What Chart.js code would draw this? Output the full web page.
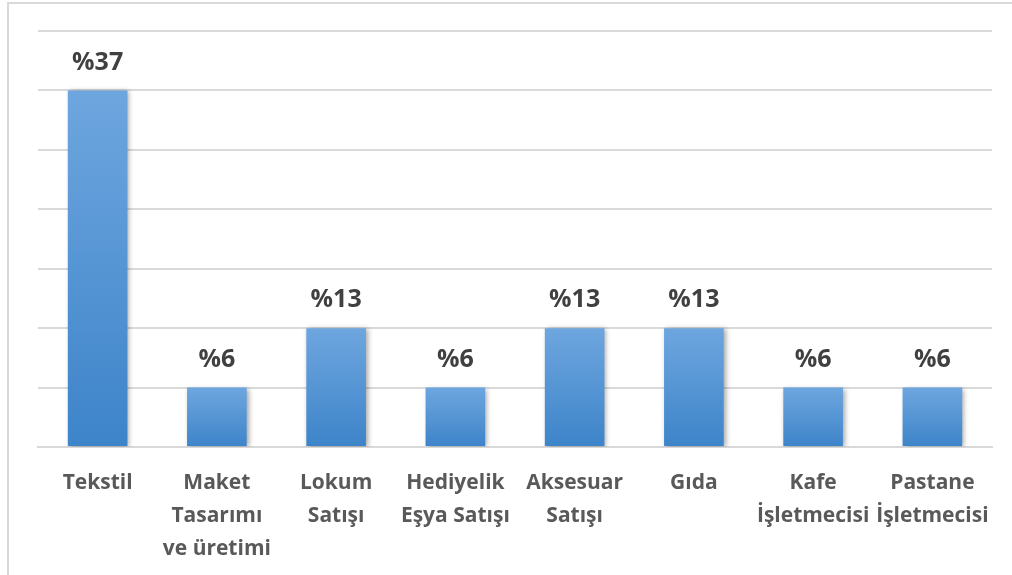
<!DOCTYPE html>
<html lang="tr">
<head>
    <meta charset="UTF-8">
    <title>Sektörler</title>
    <script src="https://cdn.jsdelivr.net/npm/chart.js"></script>
    <style>
        body {
            margin: 0;
            background: #fff;
            overflow: hidden;
        }
        #kutu {
            position: absolute;
            left: 0;
            top: 0;
            width: 1012px;
            height: 575px;
        }
        #cerceve {
            position: absolute;
            left: 7px;
            top: 2px;
            width: 1100px;
            height: 700px;
            border: 2px solid #d9d9d9;
        }
    </style>
</head>
<body>
    <div id="cerceve"></div>
    <div id="kutu"><canvas id="grafik" width="1012" height="575"></canvas></div>

    <script>
        // kategoriler (çok satırlı etiketler)
        const sektorler = [
            ["Tekstil"],
            ["Maket", "Tasarımı", "ve üretimi"],
            ["Lokum", "Satışı"],
            ["Hediyelik", "Eşya Satışı"],
            ["Aksesuar", "Satışı"],
            ["Gıda"],
            ["Kafe", "İşletmecisi"],
            ["Pastane", "İşletmecisi"]
        ];
        // yüzdeler (16 katılımcı üzerinden)
        const oranlar = [37.5, 6.25, 12.5, 6.25, 12.5, 12.5, 6.25, 6.25];
        const etiketler = ["%37", "%6", "%13", "%6", "%13", "%13", "%6", "%6"];

        const yaziTipi = "'Open Sans', Lato, sans-serif";

        function barRengi(context) {
            const chart = context.chart;
            const y = chart.scales.y;
            if (!chart.chartArea || !y || context.raw === undefined) return "#5b9bd5";
            const ust = y.getPixelForValue(context.raw);
            const alt = y.getPixelForValue(0);
            if (!isFinite(ust) || !isFinite(alt)) return "#5b9bd5";
            const g = chart.ctx.createLinearGradient(0, ust, 0, alt);
            g.addColorStop(0, "#6ea6df");
            g.addColorStop(1, "#3d84c9");
            return g;
        }

        const golge = {
            id: "golge",
            beforeDatasetsDraw(chart) {
                const ctx = chart.ctx;
                ctx.save();
                ctx.shadowColor = "rgba(0,0,0,0.35)";
                ctx.shadowBlur = 5;
                ctx.shadowOffsetX = 2;
                ctx.shadowOffsetY = 1;
            },
            afterDatasetsDraw(chart) {
                chart.ctx.restore();
            }
        };

        const degerYazisi = {
            id: "degerYazisi",
            afterDatasetsDraw(chart) {
                const ctx = chart.ctx;
                const meta = chart.getDatasetMeta(0);
                ctx.save();
                ctx.font = "bold 25px " + yaziTipi;
                ctx.fillStyle = "#404040";
                ctx.textAlign = "center";
                ctx.textBaseline = "middle";
                meta.data.forEach((bar, i) => {
                    ctx.fillText(etiketler[i], bar.x, bar.y - 28);
                });
                ctx.restore();
            }
        };

        const ctx = document.getElementById("grafik").getContext("2d");
        const grafik = new Chart(ctx, {
            type: "bar",
            data: {
                labels: sektorler,
                datasets: [{
                    data: oranlar,
                    backgroundColor: barRengi,
                    borderWidth: 0,
                    barPercentage: 0.5,
                    categoryPercentage: 1
                }]
            },
            options: {
                responsive: false,
                animation: false,
                layout: {
                    padding: { left: 38, right: 20, top: 31, bottom: 0 }
                },
                plugins: {
                    legend: { display: false },
                    tooltip: { enabled: false }
                },
                scales: {
                    x: {
                        grid: { display: false, drawTicks: false },
                        border: { display: true, color: "#d9d9d9", width: 2 },
                        ticks: {
                            color: "#595959",
                            font: { family: yaziTipi, size: 21, weight: "bold", lineHeight: "33px" },
                            padding: 20,
                            maxRotation: 0,
                            autoSkip: false
                        },
                        afterFit(scale) {
                            scale.height = 128;
                        }
                    },
                    y: {
                        min: 0,
                        max: 43.75,
                        display: true,
                        ticks: { display: false, stepSize: 6.25 },
                        grid: { color: "#d9d9d9", lineWidth: 2, drawTicks: false },
                        border: { display: false },
                        afterFit(scale) {
                            scale.width = 0;
                        }
                    }
                }
            },
            plugins: [golge, degerYazisi]
        });
        grafik.update();
    </script>
</body>
</html>
